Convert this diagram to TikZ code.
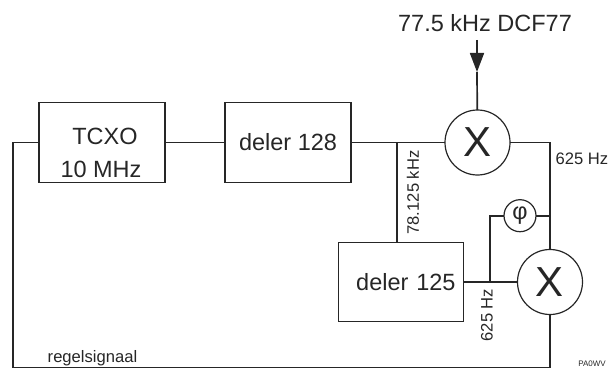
\documentclass[tikz,border=0pt]{standalone}
\usepackage{fontspec}
\setmainfont{Liberation Sans}
\usepackage{tikz}
\usetikzlibrary{positioning, arrows.meta, calc}

\begin{document}
\begin{tikzpicture}[
	  x=1pt, y=-1pt,
	  font=\fontsize{23.5}{28}\selectfont,
	  line width=1.7pt,
	  color=black!85,
	  blok/.style={draw, outer sep=0pt, inner sep=0pt, minimum width=126pt, minimum height=80pt},
	  menger/.style={draw, circle, outer sep=0pt, inner sep=0pt, line width=1.2pt, minimum size=65pt, font=\fontsize{42}{46}\selectfont},
	  fase/.style={draw, circle, outer sep=0pt, inner sep=0pt, line width=1.2pt, minimum size=32pt},
	  tekst/.style={inner sep=0pt},
	  klein/.style={tekst, font=\fontsize{16.6}{20}\selectfont},
	  pijl/.style={-{Triangle[length=19pt, width=14pt]}}
	]
	\useasboundingbox (0,0) rectangle (608,369);

	\node[blok] (tcxo) at (102,142.5) {};
	\node[tekst] (tcxotop) at (105,136) {TCXO};
	\node[tekst] (tcxobot) at (101,169) {10 MHz};
	\node[blok, right=60pt of tcxo] (del128) {deler 128};
	\node[menger, right=94pt of del128] (mix1) {X};
	\node[menger] (mix2) at (550,282) {X};
	\node[fase] (phi) at (520,215.7) {φ};
	\node[blok, left=54pt of mix2, minimum width=125pt, minimum height=79pt, text width=109pt, align=right, inner xsep=8pt] (del125) {deler 125};

	\coordinate (ant) at (477,40);
	\coordinate (anttip) at (477,72);
	\coordinate (tap128) at (397,142.5);
	\coordinate (tap125) at (490,282);
	\coordinate (fbright) at (550,367.5);
	\coordinate (fbleft) at (13,367.5);

	\draw (tcxo) -- (del128);
	\draw (del128) -- (mix1);
	\draw (tap128) -- (tap128 |- del125.north);
	\draw[pijl] (ant) -- (anttip);
	\draw (anttip) -- (mix1);
	\draw (mix1) -| (mix2);
	\draw (phi) -- (phi -| mix2);
	\draw (del125) -- (mix2);
	\draw (tap125) |- (phi);
	\draw (mix2) -- (fbright) -- (fbleft) |- (tcxo);

	\node[tekst] (dcf) at (485,23) {77.5 kHz DCF77};
	\node[klein, rotate=90] (f78) at (413,192.5) {78.125 kHz};
	\node[klein, rotate=90] (f625b) at (487,315) {625 Hz};
	\node[klein] (f625a) at (582,159) {625 Hz};
	\node[klein] (regel) at (92.5,358.5) {regelsignaal};
	\node[tekst, font=\fontsize{8}{9}\selectfont] (call) at (592,363.5) {PA0WV};

\end{tikzpicture}
\end{document}
